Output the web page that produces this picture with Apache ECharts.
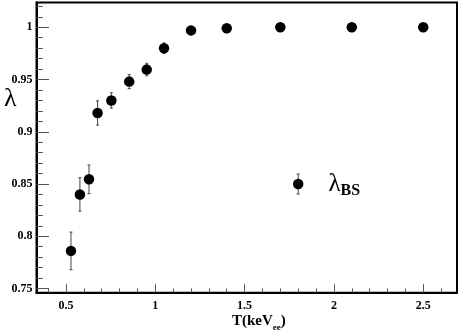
<!DOCTYPE html>
<html>
<head>
<meta charset="utf-8">
<script src="https://cdn.jsdelivr.net/npm/echarts@6/dist/echarts.min.js"></script>
<style>
html,body{margin:0;padding:0;background:#fff;}
#c{width:463px;height:333px;}
</style>
</head>
<body>
<div id="c"></div>
<script>
// ---- data ----
var energyT = [0.528, 0.578, 0.629, 0.677, 0.754, 0.854, 0.952, 1.049, 1.2, 1.4, 1.7, 2.1, 2.5];
var lambdaVals = [0.786, 0.840, 0.8545, 0.918, 0.930, 0.948, 0.9595, 0.980, 0.997, 0.999, 1.0, 1.0, 1.0];
var lambdaErr = [0.018, 0.016, 0.0137, 0.0116, 0.0073, 0.0067, 0.006, 0.005, 0.002, 0.002, 0.001, 0.001, 0.001];
var legendT = [1.8];
var legendLambda = [0.85];
var legendErr = [0.0096];
var xMajorTicks = [0.5, 1, 1.5, 2, 2.5];
var xMinorTicks = [0.4, 0.6, 0.7, 0.8, 0.9, 1.1, 1.2, 1.3, 1.4, 1.6, 1.7, 1.8, 1.9, 2.1, 2.2, 2.3, 2.4, 2.6];
var yMajorTicks = [0.75, 0.8, 0.85, 0.9, 0.95, 1];
var yMinorTicks = [0.76, 0.77, 0.78, 0.79, 0.81, 0.82, 0.83, 0.84, 0.86, 0.87, 0.88, 0.89,
                   0.91, 0.92, 0.93, 0.94, 0.96, 0.97, 0.98, 0.99, 1.01, 1.02];
var xLabels = ['0.5', '1', '1.5', '2', '2.5'];
var yLabels = ['0.75', '0.8', '0.85', '0.9', '0.95', '1'];

var X_MIN = 0.335, X_MAX = 2.689, Y_MIN = 0.746, Y_MAX = 1.0237;
var FONT = '"Liberation Serif", "Times New Roman", serif';

function pts(xs, ys) { return xs.map(function (x, i) { return [x, ys[i]]; }); }
function errs(xs, ys, es) { return xs.map(function (x, i) { return [x, ys[i] - es[i], ys[i] + es[i]]; }); }

function errRender(params, api) {
  var x = api.value(0);
  var lo = api.coord([x, api.value(1)]);
  var hi = api.coord([x, api.value(2)]);
  var cap = 1.5;
  var st = { stroke: '#444', lineWidth: 1 };
  return {
    type: 'group',
    children: [
      { type: 'line', shape: { x1: lo[0], y1: lo[1], x2: hi[0], y2: hi[1] }, style: st },
      { type: 'line', shape: { x1: lo[0] - cap, y1: lo[1], x2: lo[0] + cap, y2: lo[1] }, style: st },
      { type: 'line', shape: { x1: hi[0] - cap, y1: hi[1], x2: hi[0] + cap, y2: hi[1] }, style: st }
    ]
  };
}

function makeX(idx, ticks, len, showLabel) {
  return {
    type: 'value', gridIndex: 0, position: 'bottom', min: X_MIN, max: X_MAX,
    splitLine: { show: false },
    axisLine: { show: idx === 0, lineStyle: { color: '#000', width: 2 } },
    axisTick: { show: true, inside: true, length: len, customValues: ticks, lineStyle: { color: '#555', width: 1 } },
    axisLabel: showLabel ? {
      show: true, customValues: ticks, margin: 7,
      formatter: function (v) { var i = xMajorTicks.indexOf(v); return i >= 0 ? xLabels[i] : ''; },
      fontFamily: FONT, fontWeight: 'bold', fontSize: 12, color: '#000'
    } : { show: false }
  };
}
function makeY(idx, ticks, len, showLabel) {
  return {
    type: 'value', gridIndex: 0, position: 'left', min: Y_MIN, max: Y_MAX,
    splitLine: { show: false },
    axisLine: { show: idx === 0, lineStyle: { color: '#000', width: 2 } },
    axisTick: { show: true, inside: true, length: len, customValues: ticks, lineStyle: { color: '#555', width: 1 } },
    axisLabel: showLabel ? {
      show: true, customValues: ticks, margin: 4,
      formatter: function (v) {
        for (var i = 0; i < yMajorTicks.length; i++) if (Math.abs(yMajorTicks[i] - v) < 1e-9) return yLabels[i];
        return '';
      },
      fontFamily: FONT, fontWeight: 'bold', fontSize: 12, color: '#000'
    } : { show: false }
  };
}

var chart = echarts.init(document.getElementById('c'), null, { renderer: 'canvas' });
chart.setOption({
  animation: false,
  backgroundColor: '#fff',
  grid: { left: 36.5, right: 6, top: 2.5, bottom: 40.3, show: true, borderColor: '#000', borderWidth: 2, backgroundColor: 'transparent' },
  xAxis: [makeX(0, xMajorTicks, 8.5, true), makeX(1, xMinorTicks, 4.3, false)],
  yAxis: [makeY(0, yMajorTicks, 12.5, true), makeY(1, yMinorTicks, 6.3, false)],
  graphic: [
    { type: 'text', left: 4, top: 86, style: { text: 'λ', fontFamily: FONT, fontSize: 26, fill: '#000' } },
    { type: 'text', left: 232, top: 314, style: {
        text: '{t|T(keV}{s|ee}{t|)}',
        rich: {
          t: { fontFamily: FONT, fontWeight: 'bold', fontSize: 15, fill: '#000', color: '#000' },
          s: { fontFamily: FONT, fontWeight: 'bold', fontSize: 9, fill: '#000', color: '#000', padding: [12, 0, 0, 0] }
        }
      } }
  ],
  series: [
    { type: 'custom', xAxisIndex: 0, yAxisIndex: 0, renderItem: errRender, data: errs(energyT, lambdaVals, lambdaErr), z: 2 },
    { type: 'scatter', xAxisIndex: 0, yAxisIndex: 0, data: pts(energyT, lambdaVals), symbol: 'circle', symbolSize: 10.5,
      itemStyle: { color: '#000', opacity: 1 }, z: 3 },
    { type: 'custom', xAxisIndex: 0, yAxisIndex: 0, renderItem: errRender, data: errs(legendT, legendLambda, legendErr), z: 2 },
    { type: 'scatter', xAxisIndex: 0, yAxisIndex: 0, data: pts(legendT, legendLambda), symbol: 'circle', symbolSize: 10.5,
      itemStyle: { color: '#000', opacity: 1 }, z: 3,
      label: { show: true, position: 'right', distance: 25,
        formatter: '{l|λ}{s|BS}',
        rich: {
          l: { fontFamily: FONT, fontSize: 25, color: '#000' },
          s: { fontFamily: FONT, fontWeight: 'bold', fontSize: 16, color: '#000', padding: [13, 0, 0, 0] }
        } } }
  ]
});
</script>
</body>
</html>
